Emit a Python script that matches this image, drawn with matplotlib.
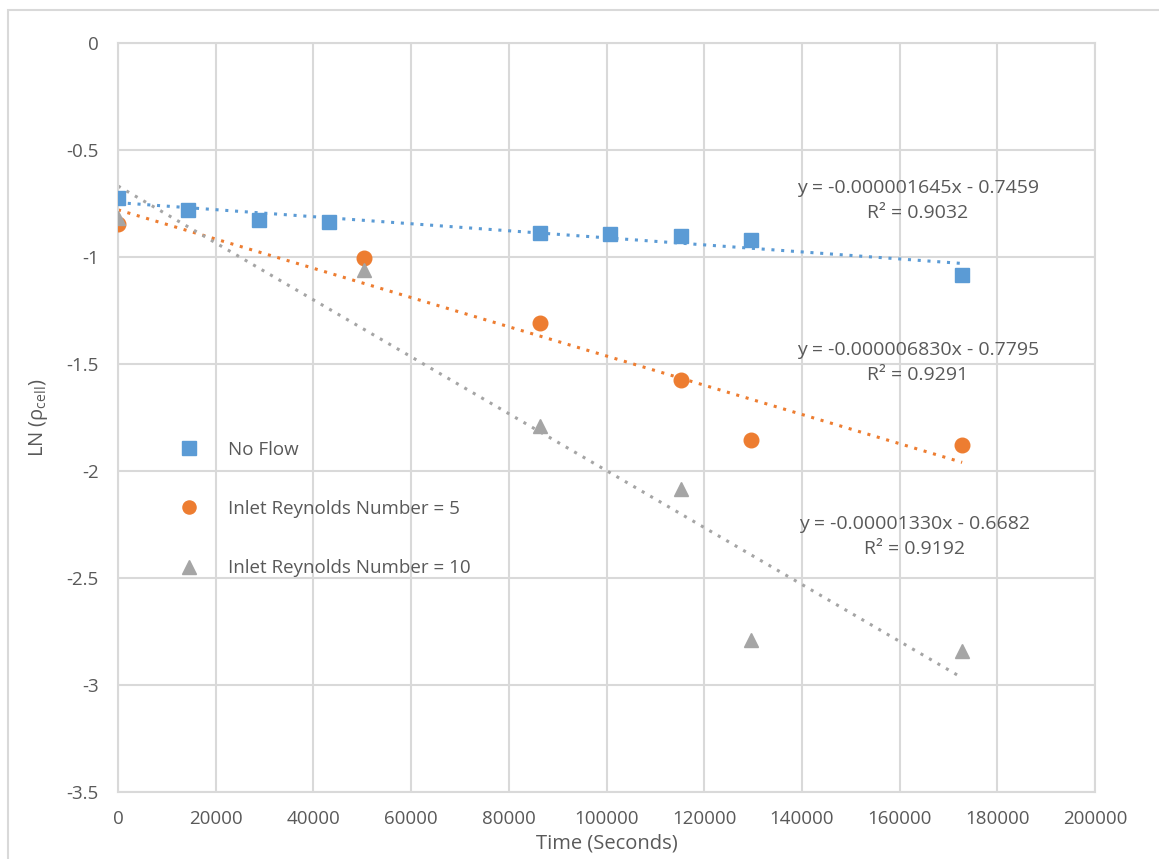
import matplotlib
matplotlib.use("Agg")
import matplotlib.pyplot as plt
from matplotlib.patches import Rectangle
import numpy as np

plt.rcParams['font.family'] = ['Open Sans', 'DejaVu Sans']
plt.rcParams['mathtext.fontset'] = 'custom'
plt.rcParams['mathtext.rm'] = 'Open Sans'
plt.rcParams['mathtext.it'] = 'Open Sans'

# ---- data ----
x_noflow = [0, 14400, 28800, 43200, 86400, 100800, 115200, 129600, 172800]
y_noflow = [-0.724, -0.780, -0.827, -0.836, -0.888, -0.892, -0.902, -0.921, -1.084]

x_re5 = [0, 50400, 86400, 115200, 129600, 172800]
y_re5 = [-0.846, -1.005, -1.308, -1.575, -1.855, -1.879]

x_re10 = [0, 50400, 86400, 115200, 129600, 172800]
y_re10 = [-0.818, -1.060, -1.790, -2.084, -2.790, -2.840]

series_names = ["No Flow", "Inlet Reynolds Number = 5", "Inlet Reynolds Number = 10"]
fit_slopes = [-0.000001645, -0.000006830, -0.00001330]
fit_intercepts = [-0.7459, -0.7795, -0.6682]
eq_labels = ["y = -0.000001645x - 0.7459\nR² = 0.9032",
             "y = -0.000006830x - 0.7795\nR² = 0.9291",
             "y = -0.00001330x - 0.6682\nR² = 0.9192"]
eq_pos = [(163770, -0.734), (163770, -1.495), (163150, -2.308)]

x_ticks = list(range(0, 200001, 20000))
y_ticks = [0, -0.5, -1, -1.5, -2, -2.5, -3, -3.5]

colors = ["#5B9BD5", "#ED7D31", "#A5A5A5"]
markers = ["s", "o", "^"]
text_color = "#595959"
grid_color = "#D9D9D9"

fig = plt.figure(figsize=(11.59, 8.59), dpi=100)
# outer chart border
fig.patches.append(Rectangle((8 / 1159, -0.05), 1.1, 1 - 10 / 859 + 0.05,
                             transform=fig.transFigure, fill=False,
                             edgecolor="#D9D9D9", linewidth=1.5))

ax = fig.add_axes([118 / 1159, 1 - 792 / 859, (1095 - 118) / 1159, (792 - 43) / 859])

xs = [x_noflow, x_re5, x_re10]
ys = [y_noflow, y_re5, y_re10]

for i in range(3):
    ax.plot(xs[i], ys[i], linestyle="none", marker=markers[i], color=colors[i],
            markersize=10.5, label=series_names[i], zorder=3)
    xl = np.array([0, max(xs[i])])
    ax.plot(xl, fit_slopes[i] * xl + fit_intercepts[i], linestyle=(0, (1, 2.2)),
            color=colors[i], linewidth=2.2, zorder=2)
    ax.text(eq_pos[i][0], eq_pos[i][1], eq_labels[i], ha="center", va="center",
            fontsize=14, color=text_color, linespacing=1.5)

ax.set_xlim(0, 200000)
ax.set_ylim(-3.5, 0)
ax.set_xticks(x_ticks)
ax.set_yticks(y_ticks)
ax.set_xticklabels([str(t) for t in x_ticks])
ax.set_yticklabels(["0", "-0.5", "-1", "-1.5", "-2", "-2.5", "-3", "-3.5"])
ax.grid(True, color=grid_color, linewidth=1.5)
ax.set_axisbelow(True)
for s in ax.spines.values():
    s.set_color(grid_color)
    s.set_linewidth(1.5)
ax.tick_params(length=0, labelsize=13.5, labelcolor=text_color, pad=14)
ax.tick_params(axis='x', pad=13)

ax.set_xlabel("Time (Seconds)", fontsize=14.5, color=text_color, labelpad=4)
ax.set_ylabel(r"LN ($\rho_{\mathrm{cell}}$)", fontsize=14.5, color=text_color, labelpad=12)

leg = ax.legend(loc="center left", bbox_to_anchor=(0.036, 0.378), frameon=False,
                fontsize=13.5, labelspacing=2.2, handletextpad=1.1,
                labelcolor=text_color, markerscale=0.9)

fig.savefig("out.png", dpi=100)
